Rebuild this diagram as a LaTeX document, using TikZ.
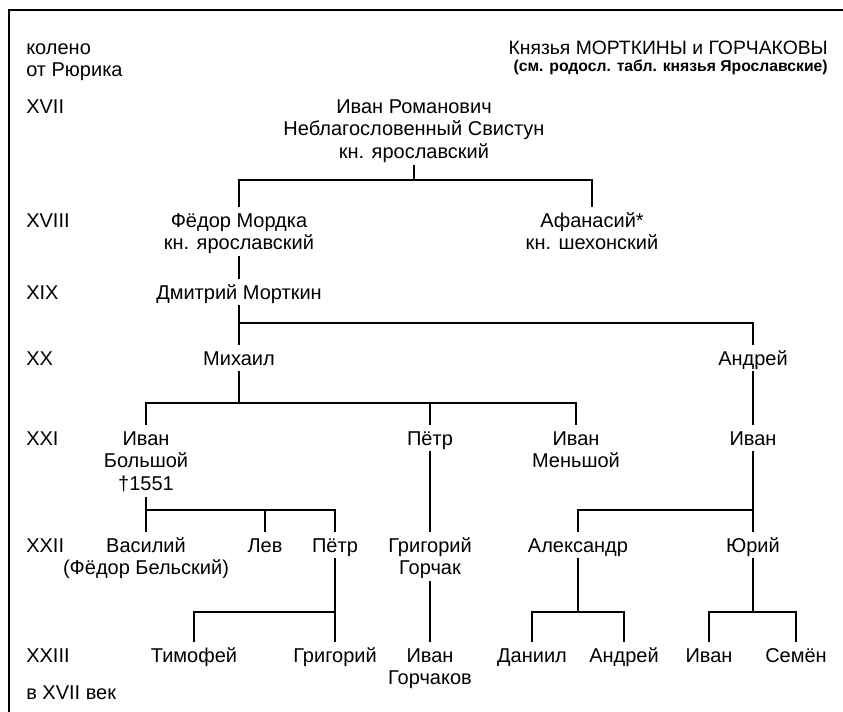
\documentclass[tikz,border=0pt]{standalone}
\usepackage{fontspec}
\setmainfont{Liberation Sans}
% even top and bottom for every name block
\newcommand{\who}[1]{\vphantom{Й}#1\vphantom{(}}
\tikzset{
  person/.style={align=center, inner sep=0pt, outer sep=1.5pt, anchor=north,
    font=\fontsize{15}{17}\selectfont},
  genlabel/.style={align=left, inner sep=0pt, anchor=north west, font=\fontsize{15}{17}\selectfont},
  heading/.style={align=right, inner sep=0pt, anchor=north east},
  link/.style={line width=0.9pt},
  frame/.style={line width=1.5pt}
}
\begin{document}
\begin{tikzpicture}[x=0.75pt, y=-0.75pt]
  \useasboundingbox (0,0) rectangle (843,712);
  % frame on top and left
  \draw[frame] (9,712) -- (9,10) -- (843,10);
  % heading
  \node[genlabel] (koleno) at (26,43) {колено\\от Рюрика};
  \node[heading, font=\fontsize{14.5}{17}\selectfont] (title_main) at (828,41) {Князья МОРТКИНЫ и ГОРЧАКОВЫ};
  \node[heading, font=\bfseries\fontsize{11.8}{14}\selectfont] (title_sub) at (828,60) {(см. родосл. табл. князья Ярославские)};
  % generations from Rurik
  \node[genlabel] (gen_xvii) at (26,99) {XVII};
  \node[genlabel] (gen_xviii) at (26,213) {XVIII};
  \node[genlabel] (gen_xix) at (26,285) {XIX};
  \node[genlabel] (gen_xx) at (26,351) {XX};
  \node[genlabel] (gen_xxi) at (26,431) {XXI};
  \node[genlabel] (gen_xxii) at (26,538) {XXII};
  \node[genlabel] (gen_xxiii) at (26,648) {XXIII};
  \node[genlabel] (gen_note) at (26,685) {в XVII век};
  % bar levels
  \coordinate (bar_xvii) at (0,180);
  \coordinate (bar_xix) at (0,323);
  \coordinate (bar_xx) at (0,403);
  \coordinate (bar_xxi) at (0,510);
  \coordinate (bar_xxii) at (0,612);
  % persons
  \node[person] (ivan_rom) at (414,93) {\who{Иван Романович\\Неблагословенный Свистун\\кн. ярославский}};
  \node[person] (fedor) at (239,207) {\who{Фёдор Мордка\\кн. ярославский}};
  \node[person] (afanasiy) at (592,207) {\who{Афанасий*\\кн. шехонский}};
  \node[person] (dmitriy) at (239,279) {\who{Дмитрий Морткин}};
  \node[person] (mikhail) at (239,345) {\who{Михаил}};
  \node[person] (andrey_xx) at (753,345) {\who{Андрей}};
  \node[person] (ivan_bol) at (146,425) {\who{Иван\\Большой\\†1551}};
  \node[person] (petr_xxi) at (430,425) {\who{Пётр}};
  \node[person] (ivan_men) at (576,425) {\who{Иван\\Меньшой}};
  \node[person] (ivan_xxi) at (753,425) {\who{Иван}};
  \node[person] (vasiliy) at (146,532) {\who{Василий\\(Фёдор Бельский)}};
  \node[person] (lev) at (265,532) {\who{Лев}};
  \node[person] (petr_xxii) at (335,532) {\who{Пётр}};
  \node[person] (grigoriy_g) at (430,532) {\who{Григорий\\Горчак}};
  \node[person] (aleksandr) at (578,532) {\who{Александр}};
  \node[person] (yuriy) at (753,532) {\who{Юрий}};
  \node[person] (timofey) at (194,642) {\who{Тимофей}};
  \node[person] (grigoriy) at (335,642) {\who{Григорий}};
  \node[person] (ivan_gor) at (430,642) {\who{Иван\\Горчаков}};
  \node[person] (daniil) at (532,642) {\who{Даниил}};
  \node[person] (andrey_xxiii) at (624,642) {\who{Андрей}};
  \node[person] (ivan_xxiii) at (709,642) {\who{Иван}};
  \node[person] (semen) at (796,642) {\who{Семён}};
  % draw the lines of descent
  \draw[link] (ivan_rom.south) -- (ivan_rom |- bar_xvii);
  \draw[link] (fedor.north) |- (afanasiy |- bar_xvii) -- (afanasiy.north);
  \draw[link] (fedor.south) -- (dmitriy.north);
  \draw[link] (dmitriy.south) -- (mikhail.north);
  \draw[link] (dmitriy |- bar_xix) -| (andrey_xx.north);
  \draw[link] (mikhail.south) -- (mikhail |- bar_xx);
  \draw[link] (ivan_bol.north) |- (ivan_men |- bar_xx) -- (ivan_men.north);
  \draw[link] (petr_xxi |- bar_xx) -- (petr_xxi.north);
  \draw[link] (andrey_xx.south) -- (ivan_xxi.north);
  \draw[link] (ivan_bol.south) -- (vasiliy.north);
  \draw[link] (vasiliy |- bar_xxi) -| (petr_xxii.north);
  \draw[link] (lev |- bar_xxi) -- (lev.north);
  \draw[link] (petr_xxi.south) -- (grigoriy_g.north);
  \draw[link] (ivan_xxi.south) -- (yuriy.north);
  \draw[link] (yuriy |- bar_xxi) -| (aleksandr.north);
  \draw[link] (petr_xxii.south) -- (grigoriy.north);
  \draw[link] (grigoriy |- bar_xxii) -| (timofey.north);
  \draw[link] (grigoriy_g.south) -- (ivan_gor.north);
  \draw[link] (aleksandr.south) -- (aleksandr |- bar_xxii);
  \draw[link] (daniil.north) |- (andrey_xxiii |- bar_xxii) -- (andrey_xxiii.north);
  \draw[link] (yuriy.south) -- (yuriy |- bar_xxii);
  \draw[link] (ivan_xxiii.north) |- (semen |- bar_xxii) -- (semen.north);
\end{tikzpicture}
\end{document}
